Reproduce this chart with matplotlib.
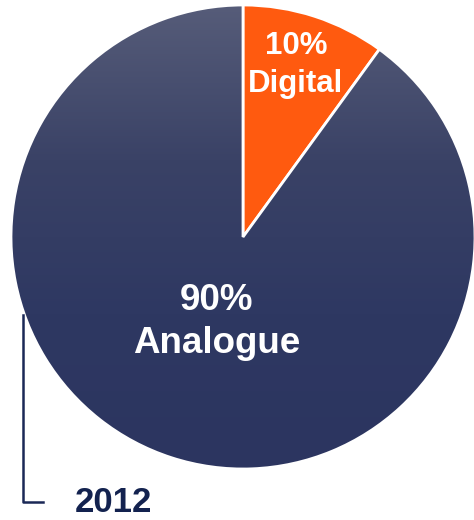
import matplotlib
matplotlib.use("Agg")
import matplotlib.pyplot as plt
import numpy as np
from matplotlib.colors import LinearSegmentedColormap

# data
shares = [10, 90]
names = ["Digital", "Analogue"]
year = "2012"

fig = plt.figure(figsize=(4.74, 5.20), dpi=100)
ax = fig.add_axes([0, 0, 1, 1])

cx, cy, r = 243, 283, 232
wedges, _ = ax.pie(shares, startangle=90, counterclock=False,
                   colors=["#ff5a0f", "#2e3862"], center=(cx, cy), radius=r,
                   wedgeprops=dict(edgecolor="white", linewidth=2), frame=True)
ax.set_xlim(0, 474)
ax.set_ylim(0, 520)
ax.set_aspect("equal")
ax.axis("off")

# vertical gradient on the big slice
cmap = LinearSegmentedColormap.from_list("g", ["#2c3560", "#2e3862", "#3a4266", "#565c79"])
grad = np.linspace(0, 1, 256).reshape(-1, 1)
img = ax.imshow(grad, cmap=cmap, origin="lower", aspect="auto",
                extent=(cx - r, cx + r, cy - r, cy + r), zorder=1.5)
img.set_clip_path(wedges[1])
wedges[1].set_facecolor("none")
wedges[1].set_zorder(2)
ax.set_xlim(0, 474)
ax.set_ylim(0, 520)

ax.text(296, 455, f"{shares[0]}%\n{names[0]}", color="white", fontsize=22.5,
        fontweight="bold", ha="center", va="center", linespacing=1.38, zorder=3,
        family="Liberation Sans")
ax.text(217, 198, f"{shares[1]}%\n{names[1]}", color="white", fontsize=26.5,
        fontweight="bold", ha="center", va="center", linespacing=1.3, zorder=3,
        family="Liberation Sans")

# bracket and year
ax.plot([23, 23, 43], [205, 18, 18], color="#1a2856", linewidth=1.8)
ax.text(113, 18, year, color="#13224f", fontsize=25, fontweight="bold",
        ha="center", va="center", family="Liberation Sans")

fig.savefig("out.png", dpi=100)
